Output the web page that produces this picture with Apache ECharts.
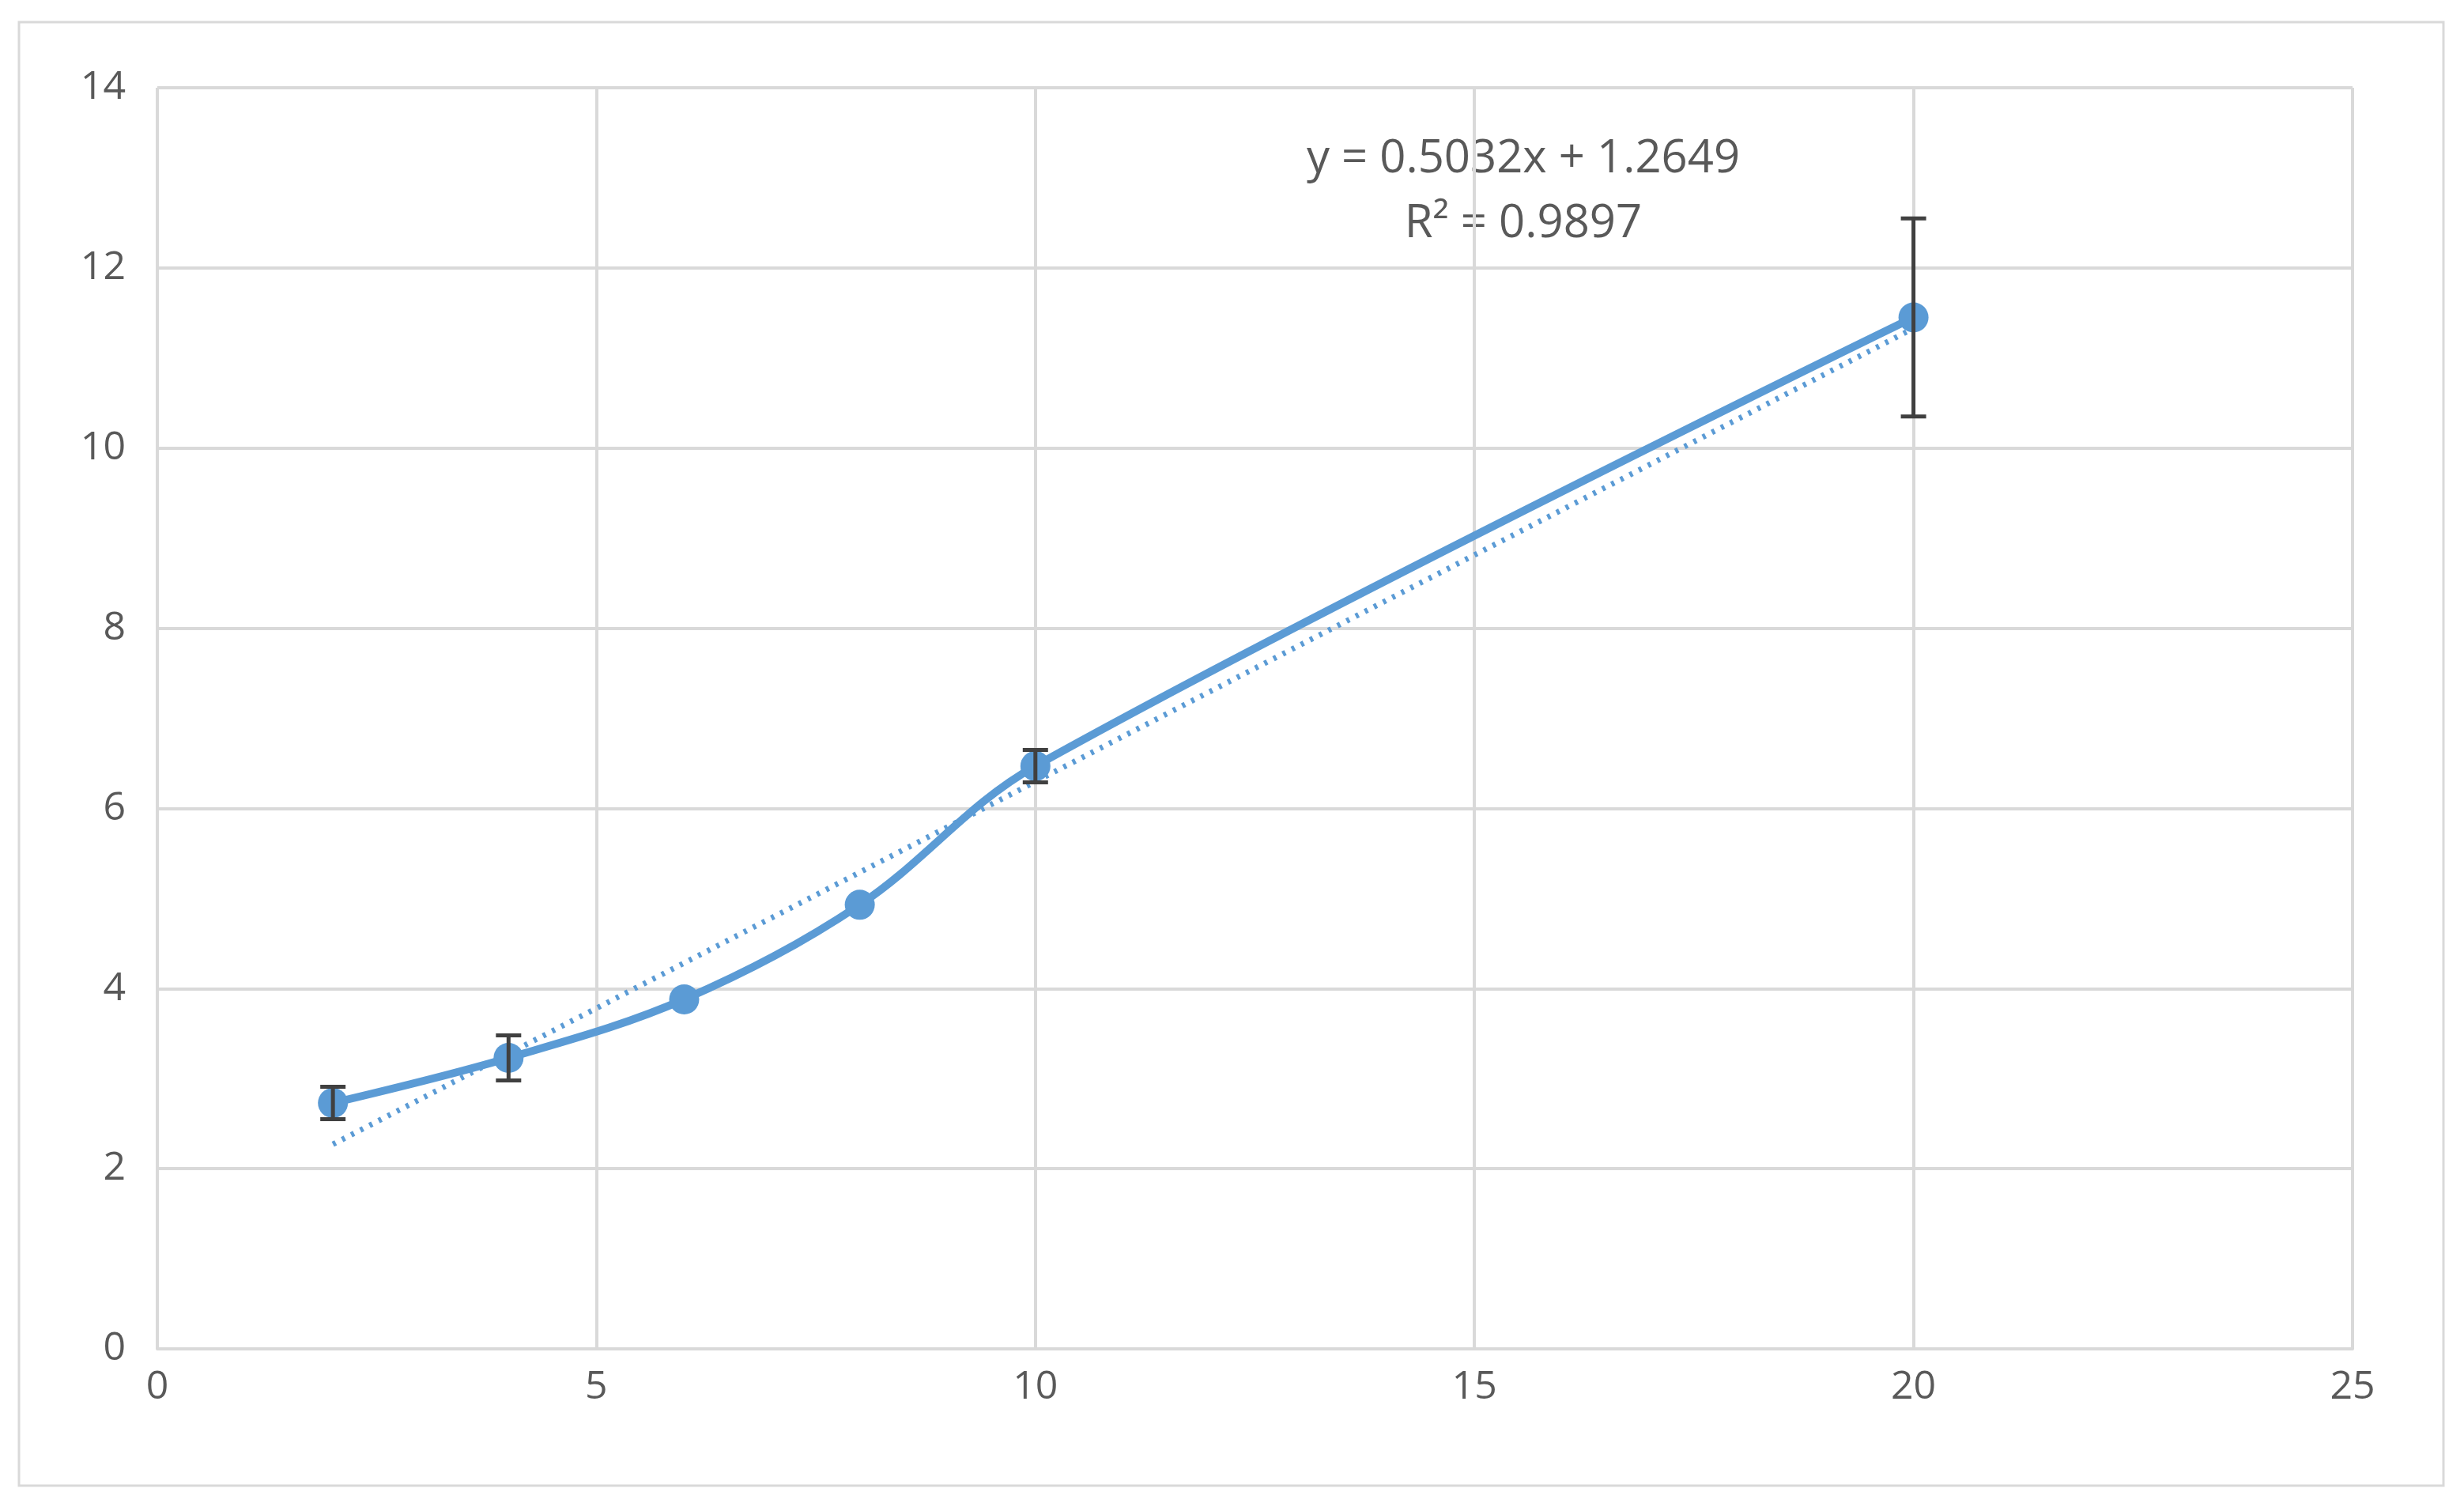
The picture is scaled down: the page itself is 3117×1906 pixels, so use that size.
<!DOCTYPE html>
<html><head><meta charset="utf-8">
<script src="https://cdn.jsdelivr.net/npm/echarts@6/dist/echarts.min.js"></script>
<style>html,body{margin:0;background:#fff}#c{width:3117px;height:1906px}</style>
</head><body><div id="c"></div>
<script>
const xValues = [2, 4, 6, 8, 10, 20];
const yValues = [2.73, 3.23, 3.88, 4.93, 6.47, 11.45];
const yErrors = [0.18, 0.25, 0, 0, 0.18, 1.1];
const slope = 0.5032, intercept = 1.2649;
const equationText = 'y = 0.5032x + 1.2649\nR² = 0.9897';

const points = xValues.map((x, i) => [x, yValues[i]]);
const errData = xValues.map((x, i) => [x, yValues[i] - yErrors[i], yValues[i] + yErrors[i]]).filter((d, i) => yErrors[i] > 0);
const trend = [[xValues[0], slope * xValues[0] + intercept], [xValues[xValues.length - 1], slope * xValues[xValues.length - 1] + intercept]];
const blue = '#5B9BD5';
const chart = echarts.init(document.getElementById('c'));
chart.setOption({
  animation: false,
  grid: { left: 199, right: 141, top: 111, bottom: 200 },
  xAxis: { type: 'value', min: 0, max: 25, interval: 5,
    axisLine: { show: true, lineStyle: { color: '#d9d9d9', width: 4 } }, axisTick: { show: false },
    splitLine: { lineStyle: { color: '#d9d9d9', width: 4 } },
    axisLabel: { color: '#595959', fontSize: 50, fontFamily: 'Open Sans', margin: 24 } },
  yAxis: { type: 'value', min: 0, max: 14, interval: 2,
    axisLine: { show: false }, axisTick: { show: false },
    splitLine: { lineStyle: { color: '#d9d9d9', width: 4 } },
    axisLabel: { color: '#595959', fontSize: 50, fontFamily: 'Open Sans', margin: 40 } },
  series: [
    { type: 'line', data: trend, showSymbol: false, z: 2,
      lineStyle: { color: blue, width: 7, type: [4, 9] } },
    { type: 'line', data: points, smooth: 0.35, symbol: 'circle', symbolSize: 38, z: 3,
      lineStyle: { color: blue, width: 10 }, itemStyle: { color: blue } },
    { type: 'custom', data: errData, z: 4,
      renderItem: function (params, api) {
        const top = api.coord([api.value(0), api.value(2)]);
        const bot = api.coord([api.value(0), api.value(1)]);
        const w = 16;
        const st = { stroke: '#404040', lineWidth: 5 };
        return { type: 'group', children: [
          { type: 'line', shape: { x1: top[0], y1: top[1], x2: bot[0], y2: bot[1] }, style: st },
          { type: 'line', shape: { x1: top[0] - w, y1: top[1], x2: top[0] + w, y2: top[1] }, style: st },
          { type: 'line', shape: { x1: bot[0] - w, y1: bot[1], x2: bot[0] + w, y2: bot[1] }, style: st }
        ] };
      } }
  ],
  graphic: [
    { type: 'rect', shape: { x: 24, y: 28, width: 3067, height: 1851 }, style: { fill: 'none', stroke: '#d9d9d9', lineWidth: 3 }, silent: true },
    { type: 'text', x: 1927, y: 160, style: { text: equationText, fill: '#595959', fontSize: 58, fontFamily: 'Open Sans', align: 'center', lineHeight: 82 } }
  ]
});
</script></body></html>
